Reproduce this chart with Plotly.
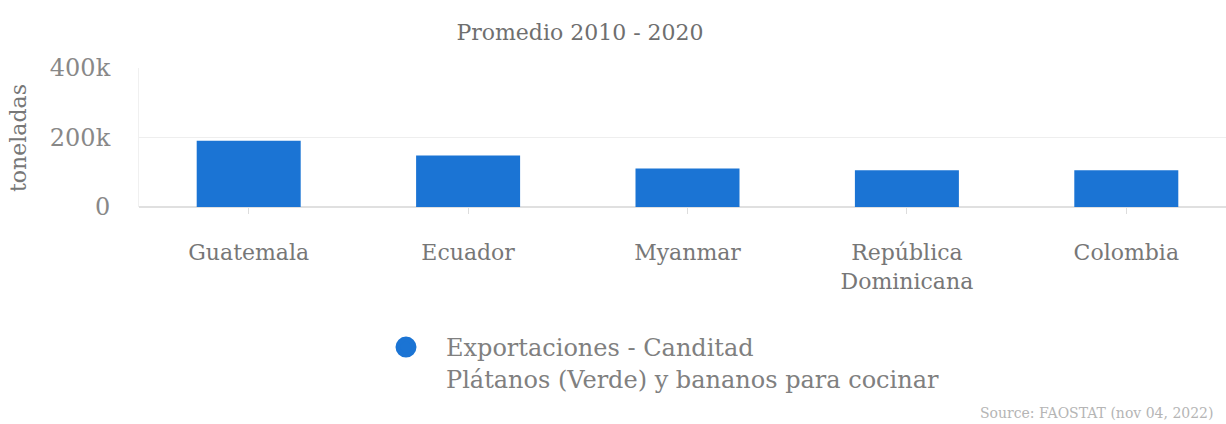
import plotly.graph_objects as go

categories = ["Guatemala", "Ecuador", "Myanmar", "República<br>Dominicana", "Colombia"]
values = [191000, 148000, 111000, 106000, 106000]
y_tickvals = [0, 200000, 400000]
y_ticktext = ["0", "200k", "400k"]
series_name = "Exportaciones - Canditad<br>Plátanos (Verde) y bananos para cocinar"
title_text = "Promedio 2010 - 2020"
y_title = "toneladas"
source_text = "Source: FAOSTAT (nov 04, 2022)"

FONT = "DejaVu Serif"
BAR = "#1b74d4"
W, H = 1226, 424
ML, MR, MT, MB = 139, 0, 68, 217
PW, PH = W - ML - MR, H - MT - MB


def px_x(x):
    return (x - ML) / PW


def px_y(y):
    return (H - MB - y) / PH


fig = go.Figure()
fig.add_trace(go.Bar(
    x=list(range(len(categories))), y=values, width=0.474,
    marker=dict(color=BAR, line=dict(width=0)),
    showlegend=False, hoverinfo="y",
))
# legend entry with a circular symbol
fig.add_trace(go.Scatter(
    x=[None], y=[None], mode="markers", name=series_name,
    marker=dict(symbol="circle", size=16, color=BAR, line=dict(color=BAR, width=5)),
))

fig.update_layout(
    width=W, height=H,
    margin=dict(l=ML, r=MR, t=MT, b=MB, pad=0, autoexpand=False),
    paper_bgcolor="white", plot_bgcolor="white",
    font=dict(family=FONT, color="#777777"),
    title=dict(text=title_text, xref="paper", x=px_x(580), xanchor="center",
               yref="container", y=1 - 32 / H, yanchor="middle",
               font=dict(family=FONT, size=22, color="#6f6f6f")),
    showlegend=True,
    legend=dict(x=px_x(366), xanchor="left", y=px_y(325), yanchor="top",
                font=dict(family=FONT, size=24, color="#808080"),
                itemwidth=70,
                itemclick=False, itemdoubleclick=False, valign="top",
                bgcolor="rgba(0,0,0,0)"),
)
fig.update_xaxes(
    automargin=False,
    tickmode="array", tickvals=list(range(len(categories))), ticktext=categories,
    range=[-0.5, -0.5 + PW / 219.4], tickangle=0,
    tickson="boundaries", ticks="outside", ticklen=6, tickcolor="#dddddd",
    showgrid=False, showline=False, zeroline=False,
    tickfont=dict(family=FONT, size=22, color="#777777"),
    ticklabelstandoff=20,
)
fig.update_yaxes(
    automargin=False,
    range=[0, 400000], tickvals=y_tickvals, ticktext=y_ticktext,
    showgrid=True, gridcolor="#eeeeee", gridwidth=1,
    zeroline=True, zerolinecolor="#e0e0e0", zerolinewidth=2,
    showline=True, linecolor="#f0f0f0", linewidth=1,
    tickfont=dict(family=FONT, size=24, color="#888888"),
    ticklabelstandoff=23,
)
fig.add_annotation(text=y_title, xref="paper", yref="paper",
                   x=px_x(18), y=px_y(138), textangle=-90,
                   xanchor="center", yanchor="middle", showarrow=False,
                   font=dict(family=FONT, size=22, color="#777777"))
fig.add_annotation(text=source_text, xref="paper", yref="paper",
                   x=px_x(978), y=px_y(413),
                   xanchor="left", yanchor="middle", showarrow=False,
                   font=dict(family=FONT, size=14, color="#b5b5b5"))

fig.write_html("out.html", config={"displayModeBar": False},
               post_script="document.body.style.margin='0';")
